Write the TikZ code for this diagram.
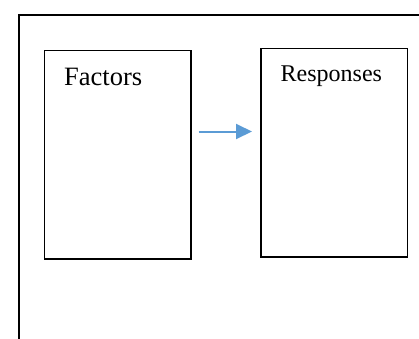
\documentclass[tikz,border=0pt]{standalone}
\usepackage{fontspec}
\setmainfont{Liberation Serif}
\usepackage{xcolor}
\definecolor{flowblue}{HTML}{5B9BD5}
\usetikzlibrary{arrows.meta,positioning,calc}

\begin{document}
\begin{tikzpicture}[x=1pt, y=-1pt,
    panel/.style={draw=black, line width=1.5pt, minimum width=146.5pt, minimum height=208.5pt, inner sep=0pt},
    title/.style={inner sep=0pt, anchor=base west},
    flow/.style={-{Triangle[length=16pt, width=15pt]}, flowblue, line width=2pt}]

  \useasboundingbox (0,0) rectangle (419,338);
  \clip (0,0) rectangle (419,338);

  % outer frame, runs off the right and bottom edges
  \node[draw=black, line width=2pt, minimum width=500pt, minimum height=400pt, inner sep=0pt,
        anchor=north west] (frame) at (17.5,13.5) {};

  % the two boxes
  \node[panel, anchor=north west] (factors) at (43.5,49.5) {};
  \node[panel, anchor=north west] (responses) at (260,47.5) {};

  \node[title, font=\fontsize{26.5}{30}\selectfont] (factorstxt) at ($(factors.north west)+(20.5,36)$) {Factors};
  \node[title, font=\fontsize{24}{28}\selectfont] (responsestxt) at ($(responses.north west)+(20.5,33.5)$) {Responses};

  % arrow between them
  \coordinate (tail) at ($(factors.north east)+(7,82)$);
  \coordinate (head) at ($(responses.north west)+(-8,84)$);
  \draw[flow] (tail) -- (head);

\end{tikzpicture}
\end{document}
